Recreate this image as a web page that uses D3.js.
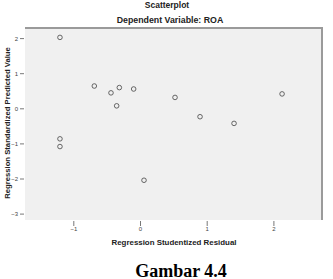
<!DOCTYPE html>
<html>
<head>
<meta charset="utf-8">
<script src="https://cdn.jsdelivr.net/npm/d3@7"></script>
<style>
  body { margin: 0; background: #fff; }
  text { font-family: "Liberation Sans", Arial, sans-serif; }
</style>
</head>
<body>
<div id="chart"></div>
<script>
// residual (x) vs predicted (y)
const residual  = [-1.20, -0.685, -0.435, -0.31, -0.35, -0.095, -1.20, -1.20, 0.06, 0.525, 0.90, 1.41, 2.13];
const predicted = [2.02, 0.635, 0.44, 0.59, 0.07, 0.55, -0.87, -1.09, -2.05, 0.31, -0.24, -0.43, 0.41];
const xTicks = [-1, 0, 1, 2];
const yTicks = [2, 1, 0, -1, -2, -3];

const width = 333, height = 279;
const plot = {left: 25, right: 322, top: 28, bottom: 220};

const svg = d3.select('#chart')
  .append('svg')
  .attr('width', width)
  .attr('height', height);

const x = d3.scaleLinear()
  .domain([0, 1])
  .range([140, 206.7]);

const y = d3.scaleLinear()
  .domain([0, 1])
  .range([108.3, 73.2]);

// plot background
svg.append('rect')
  .attr('x', plot.left)
  .attr('y', plot.top)
  .attr('width', plot.right - plot.left)
  .attr('height', plot.bottom - plot.top)
  .attr('fill', '#f0f0f0');

// top and right edge
svg.append('path')
  .attr('d', `M${plot.left},${plot.top}H${plot.right}V${plot.bottom}`)
  .attr('fill', 'none')
  .attr('stroke', '#9a9a9a')
  .attr('stroke-width', 2);

const xAxis = svg.append('g')
  .attr('transform', `translate(0,${plot.bottom + 1})`)
  .call(d3.axisBottom(x).tickValues(xTicks).tickSize(5).tickPadding(1).tickFormat(d3.format('d')));

const yAxis = svg.append('g')
  .attr('transform', `translate(${plot.left - 1},0)`)
  .call(d3.axisLeft(y).tickValues(yTicks).tickSize(4).tickPadding(2).tickFormat(d3.format('d')));

[xAxis, yAxis].forEach(g => {
  g.select('.domain').remove();
  g.selectAll('.tick line').attr('stroke', '#555').attr('stroke-width', 0.8);
  g.selectAll('.tick text')
    .attr('fill', '#444')
    .style('font-size', '6px')
    .style('font-family', '"Liberation Sans", Arial, sans-serif');
});

// points
svg.append('g')
  .selectAll('circle')
  .data(residual.map((r, i) => [r, predicted[i]]))
  .join('circle')
  .attr('cx', d => x(d[0]))
  .attr('cy', d => y(d[1]))
  .attr('r', 2.3)
  .attr('fill', 'none')
  .attr('stroke', '#444')
  .attr('stroke-width', 0.8);

// titles
svg.append('text')
  .attr('x', 167).attr('y', 8)
  .attr('text-anchor', 'middle')
  .style('font-size', '8.5px').style('font-weight', 'bold')
  .attr('fill', '#222')
  .text('Scatterplot');

svg.append('text')
  .attr('x', 170).attr('y', 23)
  .attr('text-anchor', 'middle')
  .style('font-size', '8.8px').style('font-weight', 'bold')
  .attr('fill', '#222')
  .text('Dependent Variable: ROA');

svg.append('text')
  .attr('x', 174).attr('y', 245)
  .attr('text-anchor', 'middle')
  .style('font-size', '7.9px').style('font-weight', 'bold')
  .attr('fill', '#222')
  .text('Regression Studentized Residual');

svg.append('text')
  .attr('transform', 'translate(10,123) rotate(-90)')
  .attr('text-anchor', 'middle')
  .style('font-size', '7.7px').style('font-weight', 'bold')
  .attr('fill', '#222')
  .text('Regression Standardized Predicted Value');

svg.append('text')
  .attr('x', 181).attr('y', 277)
  .attr('text-anchor', 'middle')
  .style('font-family', '"Liberation Serif", "Times New Roman", serif')
  .style('font-size', '18px').style('font-weight', 'bold')
  .attr('fill', '#000')
  .text('Gambar 4.4');
</script>
</body>
</html>
